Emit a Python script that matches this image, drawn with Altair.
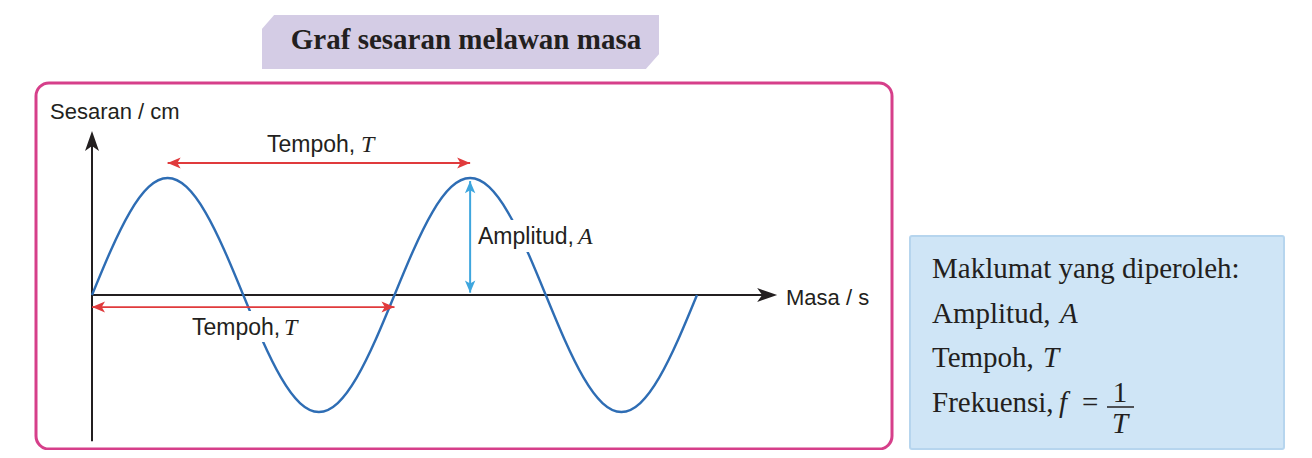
import altair as alt
import pandas as pd

# ---------------- data ----------------
# sine-shaped displacement sampled every 1/16 of a period (T = 4 s, A = 1 cm)
masa_s = [0.0, 0.25, 0.5, 0.75, 1.0, 1.25, 1.5, 1.75, 2.0, 2.25, 2.5, 2.75,
          3.0, 3.25, 3.5, 3.75, 4.0, 4.25, 4.5, 4.75, 5.0, 5.25, 5.5, 5.75,
          6.0, 6.25, 6.5, 6.75, 7.0, 7.25, 7.5, 7.75, 8.0]
sesaran_cm = [0.0, 0.383, 0.707, 0.924, 1.0, 0.924, 0.707, 0.383,
              0.0, -0.383, -0.707, -0.924, -1.0, -0.924, -0.707, -0.383,
              0.0, 0.383, 0.707, 0.924, 1.0, 0.924, 0.707, 0.383,
              0.0, -0.383, -0.707, -0.924, -1.0, -0.924, -0.707, -0.383, 0.0]
tempoh_T = 4.0
amplitud_A = 1.0

title_text = "Graf sesaran melawan masa"
y_label = "Sesaran / cm"
x_label = "Masa / s"
info_lines = ["Maklumat yang diperoleh:", "Amplitud,", "Tempoh,", "Frekuensi,"]

# ---------------- style / layout ----------------
W, H = 1296, 442
INK = "#231f20"
WAVE = "#2e6db4"
RED = "#e03a3c"
LBLUE = "#3ea6de"
PINK = "#d63f8a"
LAVENDER = "#d4cce5"
BOXBLUE = "#cfe5f6"
SANS = "Liberation Sans"
SERIF = "Liberation Serif"

X_SCALE = alt.Scale(domain=[0, 8], range=[84, 689], nice=False, zero=False)
Y_SCALE = alt.Scale(domain=[-1, 1], range=[404, 170], nice=False, zero=False)

HEAD_BIG = "M0,0 L0.7,2 L0,1.5 L-0.7,2 Z"
HEAD_SMALL = "M0,0 L0.85,2 L0,1.5 L-0.85,2 Z"
CUT_TL = "M-0.1,-0.1 L1.3,-0.1 L-0.1,1.5 Z"
CUT_BR = "M0.1,0.1 L-1.4,0.1 L0.1,-1.6 Z"


def xd(f):
    return alt.X(f, type="quantitative", scale=X_SCALE, axis=None)


def yd(f):
    return alt.Y(f, type="quantitative", scale=Y_SCALE, axis=None)


def xp(f):
    return alt.X(f, type="quantitative", scale=None, axis=None)


def yp(f):
    return alt.Y(f, type="quantitative", scale=None, axis=None)


one = pd.DataFrame({"a": [0]})

# ---------------- frame decorations ----------------
banner = alt.Chart(one).mark_rect(fill=LAVENDER).encode(
    x=alt.value(254), x2=alt.value(651), y=alt.value(7), y2=alt.value(61))

banner_cuts = alt.Chart(pd.DataFrame({
    "x": [254, 651], "y": [7, 61], "shp": [CUT_TL, CUT_BR]
})).mark_point(size=400, filled=True, color="white", opacity=1, strokeWidth=0).encode(
    x=xp("x"), y=yp("y"), shape=alt.Shape("shp:N", scale=None))

frame = alt.Chart(one).mark_rect(
    fill="white", stroke=PINK, strokeWidth=3, cornerRadius=13).encode(
    x=alt.value(28), x2=alt.value(884), y=alt.value(75), y2=alt.value(441))

infobox = alt.Chart(one).mark_rect(
    fill=BOXBLUE, stroke="#b6d5ee", strokeWidth=2, cornerRadius=2).encode(
    x=alt.value(902), x2=alt.value(1276), y=alt.value(228), y2=alt.value(441))

# white knock-out patches behind labels that cross the wave
knockouts = alt.Chart(pd.DataFrame({
    "x1": [182, 468], "x2": [290, 586], "y1": [303, 212], "y2": [334, 244]
})).mark_rect(fill="white").encode(
    x=xp("x1"), x2=alt.X2("x2"), y=yp("y1"), y2=alt.Y2("y2"))

# ---------------- axes (drawn as arrows) ----------------
axis_rules = alt.Chart(pd.DataFrame({
    "t1": [0.0, 0.0], "t2": [0.0, 8.9], "d1": [-1.25, 0.0], "d2": [1.3, 0.0]
})).mark_rule(color=INK, strokeWidth=2).encode(
    x=xd("t1"), x2=alt.X2("t2"), y=yd("d1"), y2=alt.Y2("d2"))

axis_heads = alt.Chart(pd.DataFrame({
    "t": [0.0, 9.06], "d": [1.402, 0.0], "ang": [0, 90]
})).mark_point(shape=HEAD_BIG, size=400, filled=True, color=INK, opacity=1).encode(
    x=xd("t"), y=yd("d"), angle=alt.Angle("ang:Q", scale=None))

# ---------------- wave ----------------
wave = alt.Chart(pd.DataFrame({"t": masa_s, "d": sesaran_cm})).mark_line(
    color=WAVE, strokeWidth=2.4, interpolate="natural").encode(
    x=xd("t"), y=yd("d"), order=alt.Order("t:Q"))

# ---------------- period / amplitude arrows ----------------
red_rules = alt.Chart(pd.DataFrame({
    "t1": [1.0, 0.0], "t2": [1.0 + tempoh_T, tempoh_T], "d": [1.128, -0.103]
})).mark_rule(color=RED, strokeWidth=1.8).encode(
    x=xd("t1"), x2=alt.X2("t2"), y=yd("d"))

red_heads = alt.Chart(pd.DataFrame({
    "t": [1.0, 1.0 + tempoh_T, 0.0, tempoh_T],
    "d": [1.128, 1.128, -0.103, -0.103],
    "ang": [270, 90, 270, 90]
})).mark_point(shape=HEAD_SMALL, size=169, filled=True, color=RED, opacity=1).encode(
    x=xd("t"), y=yd("d"), angle=alt.Angle("ang:Q", scale=None))

blue_rule = alt.Chart(pd.DataFrame({
    "t": [5.0], "d1": [0.02], "d2": [amplitud_A * 0.974]
})).mark_rule(color=LBLUE, strokeWidth=2).encode(
    x=xd("t"), y=yd("d1"), y2=alt.Y2("d2"))

blue_heads = alt.Chart(pd.DataFrame({
    "t": [5.0, 5.0], "d": [amplitud_A * 0.974, 0.02], "ang": [0, 180]
})).mark_point(shape=HEAD_SMALL, size=150, filled=True, color=LBLUE, opacity=1).encode(
    x=xd("t"), y=yd("d"), angle=alt.Angle("ang:Q", scale=None))

fraction_bar = alt.Chart(one).mark_rule(color=INK, strokeWidth=1.5).encode(
    x=alt.value(1099), x2=alt.value(1126), y=alt.value(399))


# ---------------- texts ----------------
def text_layer(rows, font, size, style="normal", weight="normal", align="left"):
    df = pd.DataFrame(rows, columns=["x", "y", "text"])
    return alt.Chart(df).mark_text(
        align=align, baseline="alphabetic", font=font, fontSize=size,
        fontStyle=style, fontWeight=weight, color=INK).encode(
        x=xp("x"), y=yp("y"), text="text:N")


axis_labels = text_layer([
    (42, 111, y_label),
    (778, 297, x_label),
], SANS, 22)

inner_labels = text_layer([
    (259, 144, "Tempoh,"),
    (184, 327, "Tempoh,"),
    (470, 236, "Amplitud,"),
], SANS, 23)

italic_small = text_layer([
    (353, 144, "T"),
    (276, 327, "T"),
    (570, 236, "A"),
], SERIF, 24, style="italic")

title = text_layer([(458, 41, title_text)], SERIF, 29, weight="bold", align="center")

info_serif = text_layer([
    (924, 270, info_lines[0]),
    (924, 315, info_lines[1]),
    (924, 359, info_lines[2]),
    (924, 404, info_lines[3]),
    (1074, 404, "="),
], SERIF, 29)

info_num = text_layer([(1112, 394, "1")], SERIF, 29, align="center")

info_italic = text_layer([
    (1052, 315, "A"),
    (1035, 359, "T"),
    (1051, 404, "f"),
], SERIF, 29, style="italic")

info_frac_T = text_layer([(1112, 425, "T")], SERIF, 29, style="italic", align="center")

chart = alt.layer(
    banner, banner_cuts, frame, infobox,
    axis_rules, wave, knockouts, red_rules, blue_rule,
    axis_heads, red_heads, blue_heads, fraction_bar,
    axis_labels, inner_labels, italic_small, title,
    info_serif, info_num, info_italic, info_frac_T,
).resolve_scale(x="independent", y="independent", shape="independent").properties(
    width=W, height=H, padding=0,
    autosize=alt.AutoSizeParams(type="none"),
    background="white",
).configure_view(stroke=None)

chart.save("out.html", embed_options={"renderer": "svg", "actions": False})
